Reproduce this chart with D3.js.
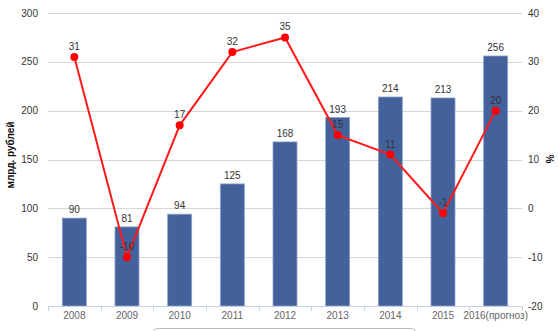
<!DOCTYPE html>
<html>

<head>
    <meta charset="utf-8">
    <script src="https://d3js.org/d3.v7.min.js"></script>
    <style>
        body { margin: 0; background: #fff; }
        text { font-family: "Liberation Sans", Arial, sans-serif; }
    </style>
</head>

<body>
    <div id="chart"></div>

    <script>
        // data
        const years = ["2008", "2009", "2010", "2011", "2012", "2013", "2014", "2015", "2016(прогноз)"];
        const volume = [90, 81, 94, 125, 168, 193, 214, 213, 256];   // млрд. рублей
        const growth = [31, -10, 17, 32, 35, 15, 11, -1, 20];        // %
        const leftTicks = [0, 50, 100, 150, 200, 250, 300];
        const rightTicks = [-20, -10, 0, 10, 20, 30, 40];

        const W = 558, H = 331;
        const margin = { top: 13, right: 36, bottom: 25, left: 48 };
        const width = W - margin.left - margin.right,
            height = H - margin.top - margin.bottom;

        const svg = d3.select("#chart").append("svg")
            .attr("width", W).attr("height", H);
        const g = svg.append("g")
            .attr("transform", `translate(${margin.left},${margin.top})`);

        const x = d3.scaleBand().domain(years).range([0, width]);
        const y = d3.scaleLinear().domain([0, 300]).range([height, 0]);
        const y2 = d3.scaleLinear().domain([-20, 40]).range([height, 0]);

        // gridlines
        g.append("g").selectAll("line").data(leftTicks.slice(1)).join("line")
            .attr("x1", 0).attr("x2", width)
            .attr("y1", d => Math.round(y(d)) + 0.5).attr("y2", d => Math.round(y(d)) + 0.5)
            .attr("stroke", "#d6d6d6");

        // left axis labels
        g.append("g").selectAll("text").data(leftTicks).join("text")
            .attr("x", -10).attr("y", d => y(d) + 3.5)
            .attr("text-anchor", "end").attr("font-size", 10).attr("fill", "#333")
            .text(d => d);

        // right axis labels
        g.append("g").selectAll("text").data(rightTicks).join("text")
            .attr("x", width + 6).attr("y", d => y2(d) + 3.5)
            .attr("text-anchor", "start").attr("font-size", 10).attr("fill", "#333")
            .text(d => d);

        // bars
        g.append("g").selectAll("rect").data(volume).join("rect")
            .attr("x", (d, i) => x(years[i]) + (x.bandwidth() - 24) / 2)
            .attr("width", 24)
            .attr("y", d => y(d))
            .attr("height", d => height - y(d))
            .attr("fill", "#43629b")
            .attr("stroke", "#8ea2c6")
            .attr("stroke-width", 0.8);

        g.append("g").selectAll("text").data(volume).join("text")
            .attr("x", (d, i) => x(years[i]) + x.bandwidth() / 2)
            .attr("y", d => y(d) - 5)
            .attr("text-anchor", "middle").attr("font-size", 10).attr("fill", "#333")
            .text(d => d);

        // x axis
        const xAxis = g.append("g").attr("transform", `translate(0,${height})`);
        xAxis.append("line").attr("x1", 0).attr("x2", width)
            .attr("y1", 0.5).attr("y2", 0.5).attr("stroke", "#c3d1e3");
        xAxis.selectAll("line.tick").data(d3.range(years.length + 1)).join("line")
            .attr("class", "tick")
            .attr("x1", i => Math.round(i * x.step()) + 0.5).attr("x2", i => Math.round(i * x.step()) + 0.5)
            .attr("y1", 0).attr("y2", 5).attr("stroke", "#c3d1e3");
        xAxis.selectAll("text").data(years).join("text")
            .attr("x", d => x(d) + x.bandwidth() / 2)
            .attr("y", 13)
            .attr("text-anchor", "middle").attr("font-size", 10).attr("fill", "#666")
            .text(d => d);

        // growth line
        const line = d3.line()
            .x((d, i) => x(years[i]) + x.bandwidth() / 2)
            .y(d => y2(d));
        g.append("path").datum(growth)
            .attr("fill", "none").attr("stroke", "#ff1a1a").attr("stroke-width", 2)
            .attr("d", line);
        g.append("g").selectAll("circle").data(growth).join("circle")
            .attr("cx", (d, i) => x(years[i]) + x.bandwidth() / 2)
            .attr("cy", d => y2(d))
            .attr("r", 4).attr("fill", "#ff0000");
        g.append("g").selectAll("text").data(growth).join("text")
            .attr("x", (d, i) => x(years[i]) + x.bandwidth() / 2)
            .attr("y", d => y2(d) - 7)
            .attr("text-anchor", "middle").attr("font-size", 10).attr("fill", "#333")
            .text(d => d);

        // axis titles
        svg.append("text")
            .attr("transform", `translate(14,155) rotate(-90)`)
            .attr("text-anchor", "middle").attr("font-size", 10).attr("font-weight", "bold")
            .attr("fill", "#111")
            .text("млрд. рублей");
        svg.append("text")
            .attr("transform", `translate(546,159) rotate(90)`)
            .attr("text-anchor", "middle").attr("font-size", 10).attr("font-weight", "bold")
            .attr("fill", "#111")
            .text("%");

        // legend box (cut off at the bottom)
        svg.append("rect")
            .attr("x", 153.5).attr("y", 328.5).attr("width", 262).attr("height", 20)
            .attr("rx", 4).attr("fill", "#fff").attr("stroke", "#bbb");
    </script>
</body>

</html>
